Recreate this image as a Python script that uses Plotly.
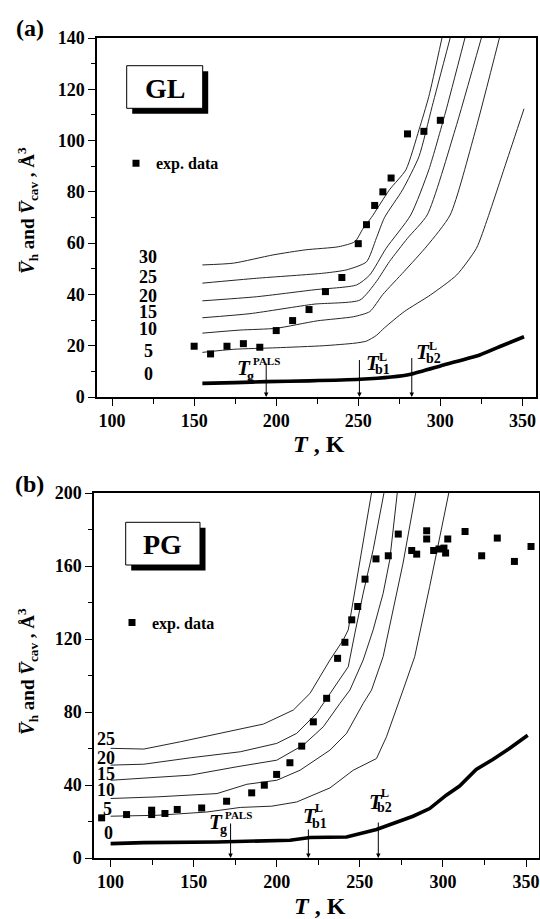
import plotly.graph_objects as go

# ---------------- Panel (a): GL ----------------
gl_exp_T = [150, 160, 170, 180, 190, 200, 210, 220, 230, 240, 250, 255, 260, 265, 270, 280, 290, 300]
gl_exp_V = [19.8, 16.8, 19.8, 20.8, 19.4, 25.9, 29.8, 34.1, 41.1, 46.6, 59.8, 67.2, 74.7, 80.0, 85.4, 102.6, 103.6, 107.9]

gl_T0 = [155, 175, 194, 220, 251, 270, 282, 302, 324, 336, 351]
gl_V0 = [5.3, 5.6, 6.0, 6.3, 6.9, 7.8, 8.9, 12.5, 16.4, 19.6, 23.5]

gl_T5 = [155, 174, 200, 229, 248, 255, 261, 266, 278, 294, 310, 322, 329, 340, 351]
gl_V5 = [17.4, 18.6, 19.2, 20.0, 21.0, 21.8, 24.0, 27.0, 33.3, 39.8, 47.6, 58.0, 70.0, 91.2, 112.4]

gl_T10 = [155, 178, 200, 225, 247, 257, 265, 278, 292, 306, 321, 336]
gl_V10 = [24.9, 26.1, 26.8, 29.7, 31.3, 33.3, 40.0, 49.0, 59.0, 71.0, 103.0, 140.0]

gl_T15 = [155, 184, 223, 251, 261, 269, 280, 292, 309, 325]
gl_V15 = [30.9, 32.5, 36.2, 37.8, 45.0, 52.8, 61.9, 71.0, 104.2, 140.0]

gl_T20 = [155, 188, 223, 249, 257, 267, 282, 293, 303, 315]
gl_V20 = [37.5, 39.1, 41.8, 43.7, 47.6, 58.0, 71.0, 88.6, 110.7, 140.0]

gl_T25 = [155, 188, 229, 243, 255, 261, 266, 277, 287, 295, 306]
gl_V25 = [44.4, 46.3, 48.3, 49.6, 52.7, 61.9, 70.0, 80.8, 93.8, 113.3, 140.0]

gl_T30 = [155, 174, 198, 218, 238, 248, 253, 258, 269, 279, 287, 293, 301]
gl_V30 = [51.5, 52.2, 55.4, 57.4, 58.6, 60.6, 65.8, 70.0, 80.8, 88.6, 104.2, 117.2, 140.0]

gl_labels = ["0", "5", "10", "15", "20", "25", "30"]
gl_marks = [193.9, 250.7, 282.6]          # T_g^PALS, T_b1^L, T_b2^L

# ---------------- Panel (b): PG ----------------
pg_exp_T = [94.6, 109.6, 124.7, 124.7, 132.7, 140.1, 154.8, 169.8, 184.9, 192.5, 199.9, 207.9,
            215.0, 222.0, 230.0, 236.6, 241.0, 245.1, 248.7, 253.1, 259.7, 267.1, 273.1, 281.2,
            284.2, 290.2, 290.2, 294.4, 297.6, 300.6, 301.6, 302.9, 313.3, 323.3, 332.7, 343.0, 353.0]
pg_exp_V = [22.0, 23.8, 26.2, 23.8, 24.4, 26.6, 27.4, 31.1, 35.7, 39.9, 45.8, 52.2,
            61.3, 74.6, 87.5, 109.4, 118.2, 130.5, 137.8, 152.8, 163.9, 165.6, 177.5, 168.5,
            166.5, 179.3, 174.8, 168.5, 169.3, 169.8, 167.1, 174.8, 178.9, 165.6, 175.3, 162.5, 170.7]

pg_T0 = [100, 120, 164, 192, 208, 220, 242, 260, 272, 282, 292, 302, 310, 320, 330, 340, 351]
pg_V0 = [7.9, 8.4, 8.8, 9.2, 9.7, 11.2, 11.5, 15.6, 19.8, 22.9, 27.1, 34.4, 39.4, 48.5, 54.0, 60.0, 67.3]

pg_T5 = [100, 128, 158, 178, 197, 212, 232, 246, 260, 266, 276, 283, 292, 298, 303.5]
pg_V5 = [22.9, 23.4, 25.2, 27.7, 28.4, 30.7, 38.4, 48.1, 54.5, 66.4, 92.0, 110.3, 148.7, 176.2, 200]

pg_T10 = [100, 128, 164, 182, 200, 214, 232, 242, 252, 257, 264, 269, 276, 283.6]
pg_V10 = [32.6, 33.5, 35.3, 40.4, 42.6, 48.1, 59.1, 68.3, 84.7, 92.0, 110.3, 132.3, 161.6, 200]

pg_T15 = [100, 128, 148, 176, 200, 216, 228, 238, 244, 252, 258, 264, 268, 272.5]
pg_V15 = [42.6, 44.1, 45.4, 50.0, 53.6, 61.9, 71.9, 84.7, 92.0, 108.5, 125.0, 145.0, 163.4, 200]

pg_T20 = [100, 120, 148, 178, 200, 212, 224, 232, 243, 247, 252, 258, 264.5]
pg_V20 = [50.9, 51.4, 54.9, 58.2, 62.8, 68.3, 79.3, 90.2, 104.8, 123.2, 145.1, 168.9, 200]

pg_T25 = [100, 120, 142, 174, 192, 210, 220, 232, 240, 243, 246, 252, 257]
pg_V25 = [60.1, 59.7, 63.7, 70.1, 73.4, 81.1, 90.2, 108.5, 119.5, 125.0, 141.4, 172.6, 200]

pg_labels = ["0", "5", "10", "15", "20", "25"]
pg_marks = [172.2, 219.0, 261.1]          # T_g^PALS, T_b1^L, T_b2^L

# ---------------- helpers ----------------
W, H = 540, 919
SERIF = "Liberation Serif"


def px(x):
    return x / W


def py(y):
    return 1 - y / H


fig = go.Figure()


def add_model_curves(pairs, xa, ya, shape):
    for i, (T, V) in enumerate(pairs):
        thick = i == 0
        fig.add_trace(go.Scatter(
            x=T, y=V, mode="lines", xaxis=xa, yaxis=ya, showlegend=False, hoverinfo="skip",
            line=dict(color="black" if thick else "#262626", width=3.6 if thick else 1.0,
                      shape=shape, smoothing=0.6 if shape == "spline" else None)))


add_model_curves([(gl_T0, gl_V0), (gl_T5, gl_V5), (gl_T10, gl_V10), (gl_T15, gl_V15),
                  (gl_T20, gl_V20), (gl_T25, gl_V25), (gl_T30, gl_V30)], "x", "y", "spline")
add_model_curves([(pg_T0, pg_V0), (pg_T5, pg_V5), (pg_T10, pg_V10), (pg_T15, pg_V15),
                  (pg_T20, pg_V20), (pg_T25, pg_V25)], "x2", "y2", "linear")

marker = dict(symbol="square", size=7, color="black", line=dict(width=0))
fig.add_trace(go.Scatter(x=gl_exp_T, y=gl_exp_V, mode="markers", marker=marker, name="exp. data",
                         xaxis="x", yaxis="y", legend="legend", cliponaxis=False))
fig.add_trace(go.Scatter(x=pg_exp_T, y=pg_exp_V, mode="markers", marker=marker, name="exp. data",
                         xaxis="x2", yaxis="y2", legend="legend2", cliponaxis=False))

tick_font = dict(family=SERIF, size=18, color="black", weight="bold")
axis_common = dict(showline=True, linecolor="black", linewidth=1.5, mirror=True,
                   ticks="outside", ticklen=7, tickwidth=1.4, tickcolor="black",
                   showgrid=False, zeroline=False, tickfont=tick_font, tickmode="linear",
                   automargin=False)

fig.update_layout(
    width=W, height=H, margin=dict(l=0, r=0, t=0, b=0, autoexpand=False),
    paper_bgcolor="white", plot_bgcolor="white",
    xaxis=dict(domain=[px(97), px(536)], range=[90.8, 358.3], tick0=100, dtick=50, anchor="y",
               minor=dict(dtick=25, tick0=100, ticks="outside", ticklen=5, tickwidth=1.4,
                          tickcolor="black", showgrid=False), **axis_common),
    yaxis=dict(domain=[py(397), py(38)], range=[0, 140], tick0=0, dtick=20, anchor="x",
               minor=dict(dtick=10, ticks="outside", ticklen=4, tickwidth=1.4,
                          tickcolor="black", showgrid=False), **axis_common),
    xaxis2=dict(domain=[px(94), px(539)], range=[90.0, 357.8], tick0=100, dtick=50, anchor="y2",
                minor=dict(dtick=25, tick0=100, ticks="outside", ticklen=5, tickwidth=1.4,
                           tickcolor="black", showgrid=False), **axis_common),
    yaxis2=dict(domain=[py(858), py(493)], range=[0, 200], tick0=0, dtick=40, anchor="x2",
                minor=dict(dtick=20, ticks="outside", ticklen=4, tickwidth=1.4,
                           tickcolor="black", showgrid=False), **axis_common),
    legend=dict(x=px(116), y=py(163.3), xanchor="left", yanchor="middle", borderwidth=0,
                bgcolor="rgba(0,0,0,0)", font=dict(family=SERIF, size=16, color="black", weight="bold")),
    legend2=dict(x=px(112), y=py(622.7), xanchor="left", yanchor="middle", borderwidth=0,
                 bgcolor="rgba(0,0,0,0)", font=dict(family=SERIF, size=16, color="black", weight="bold")),
)

anns = []
shapes = []


def text(x, y, s, size, xanchor="center", angle=0):
    anns.append(dict(x=px(x), y=py(y), xref="paper", yref="paper", text=s, showarrow=False,
                     xanchor=xanchor, yanchor="middle", textangle=angle,
                     font=dict(family=SERIF, size=size, color="black", weight="bold")))


def t_symbol(tx, ty, sub, sx, sy, sup, ux, uy, sup_size):
    text(tx, ty, "<i>T</i>", 21)
    text(sx, sy, sub, 14)
    text(ux, uy, sup, sup_size, xanchor="left" if len(sup) > 1 else "center")


def arrow(xa, ya, T, tail):
    anns.append(dict(x=T, y=0, xref=xa, yref=ya, ax=0, ay=-tail, text="", showarrow=True,
                     arrowhead=2, arrowsize=0.9, arrowwidth=1, arrowcolor="black", standoff=0))


def tag_box(x0, y0, x1, y1, label):
    off = 5.5
    shapes.append(dict(type="rect", xref="paper", yref="paper", x0=px(x0 + off), x1=px(x1 + off),
                       y0=py(y1 + off), y1=py(y0 + off), fillcolor="black", line=dict(width=0)))
    shapes.append(dict(type="rect", xref="paper", yref="paper", x0=px(x0), x1=px(x1),
                       y0=py(y1), y1=py(y0), fillcolor="white", line=dict(color="black", width=1)))
    text((x0 + x1) / 2, (y0 + y1) / 2 + 1, label, 28)


ytitle = "<i>V\u0305</i><sub>h</sub> and <i>V\u0305</i><sub>cav</sub> , \u00c5<sup>3</sup>"
xtitle = "<i>T</i> , K"

# panel (a)
text(30, 28, "(a)", 24)
tag_box(126.7, 65.7, 202.7, 108.3, "GL")
text(27, 211, ytitle, 19, angle=-90)
text(319, 444, xtitle, 24)
for lab, yy in zip(gl_labels, [373.8, 350.5, 329.2, 312.0, 296.3, 277.2, 257.2]):
    text(148.3, yy, lab, 18)
for T, tail in zip(gl_marks, [35, 38.5, 40.5]):
    arrow("x", "y", T, tail)
t_symbol(244, 368.3, "g", 250.8, 376, "PALS", 250.7, 360.5, 11)
t_symbol(373.3, 362.7, "b1", 382.2, 369.5, "L", 382.5, 357.0, 12)
t_symbol(423.3, 351.7, "b2", 433.3, 358.8, "L", 432.5, 346.5, 12)

# panel (b)
text(29, 484, "(b)", 24)
tag_box(125.7, 522.3, 200.0, 565.0, "PG")
text(27, 672, ytitle, 19, angle=-90)
text(320, 906, xtitle, 24)
for lab, xx, yy in zip(pg_labels, [108.7, 107.5, 105.8, 105.8, 105.8, 105.8],
                       [833.3, 808.7, 790.2, 773.8, 758.3, 738.7]):
    text(xx, yy, lab, 18)
for T, tail in zip(pg_marks, [36, 30, 37]):
    arrow("x2", "y2", T, tail)
t_symbol(216, 821.7, "g", 223.3, 829.5, "PALS", 223.0, 815.0, 11)
t_symbol(310, 816, "b1", 319, 823.5, "L", 318.7, 808.3, 12)
t_symbol(375.5, 801.7, "b2", 385, 807, "L", 385, 793.3, 12)

fig.update_layout(annotations=anns, shapes=shapes)
fig.write_html("out.html")
